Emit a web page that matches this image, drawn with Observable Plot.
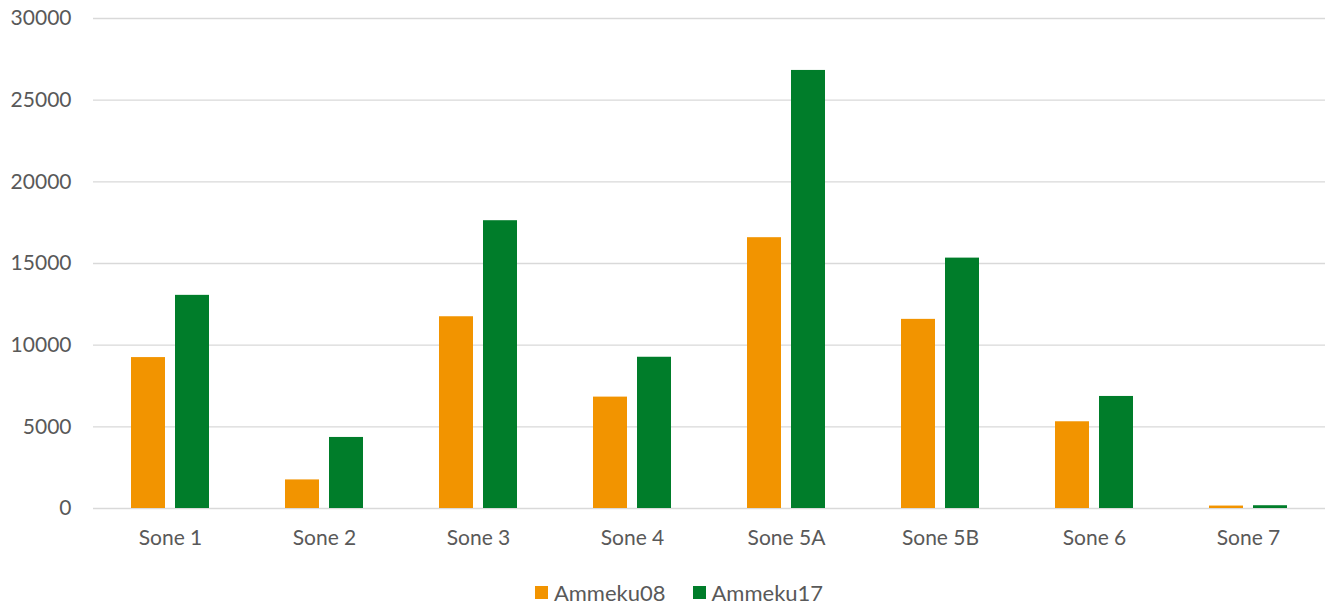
<!DOCTYPE html>
<html>
<head>
<meta charset="utf-8">
<script src="https://cdn.jsdelivr.net/npm/d3@7"></script>
<script src="https://cdn.jsdelivr.net/npm/@observablehq/plot@0.6"></script>
<style>
  body { margin: 0; background: #fff; font-family: Lato, "Open Sans", sans-serif; }
  #legend { display: flex; justify-content: center; align-items: center; gap: 27px; height: 30px; padding-top: 12px; padding-left: 26px; color: #595959; font-size: 22px; }
  #legend span.item { display: flex; align-items: center; }
  #legend span.sw { display: inline-block; width: 13px; height: 13px; margin-right: 6px; }
</style>
</head>
<body>
<div id="chart"></div>
<div id="legend"></div>
<script>
const zones = ["Sone 1", "Sone 2", "Sone 3", "Sone 4", "Sone 5A", "Sone 5B", "Sone 6", "Sone 7"];
const seriesNames = ["Ammeku08", "Ammeku17"];
const ammeku08 = [9240, 1750, 11740, 6820, 16580, 11580, 5310, 150];
const ammeku17 = [13050, 4350, 17620, 9260, 26820, 15330, 6860, 170];
const yTicks = [0, 5000, 10000, 15000, 20000, 25000, 30000];
const colors = ["#F29400", "#007D2A"];

const data = [];
zones.forEach((z, i) => {
  data.push({zone: z, series: seriesNames[0], value: ammeku08[i]});
  data.push({zone: z, series: seriesNames[1], value: ammeku17[i]});
});

const chart = Plot.plot({
  width: 1332,
  height: 565,
  marginLeft: 93,
  marginRight: 7,
  marginTop: 18,
  marginBottom: 57,
  style: {fontFamily: "Lato, 'Open Sans', sans-serif", fontSize: "21px", color: "#595959", background: "#fff"},
  fx: {domain: zones, padding: 0, label: null, tickSize: 0, tickPadding: 22, axis: "bottom"},
  x: {domain: seriesNames, axis: null, paddingInner: 0.216, paddingOuter: 0.858},
  y: {domain: [0, 30000], ticks: yTicks, tickFormat: d => String(d), tickSize: 0, tickPadding: 22, label: null},
  color: {domain: seriesNames, range: colors},
  marks: [
    Plot.ruleY(yTicks, {stroke: "#d9d9d9", strokeWidth: 1.3}),
    Plot.barY(data, {fx: "zone", x: "series", y: "value", fill: "series"})
  ]
});
document.getElementById("chart").appendChild(chart);

const legend = document.getElementById("legend");
seriesNames.forEach((s, i) => {
  const item = document.createElement("span");
  item.className = "item";
  const sw = document.createElement("span");
  sw.className = "sw";
  sw.style.background = colors[i];
  item.appendChild(sw);
  item.appendChild(document.createTextNode(s));
  legend.appendChild(item);
});
</script>
</body>
</html>
